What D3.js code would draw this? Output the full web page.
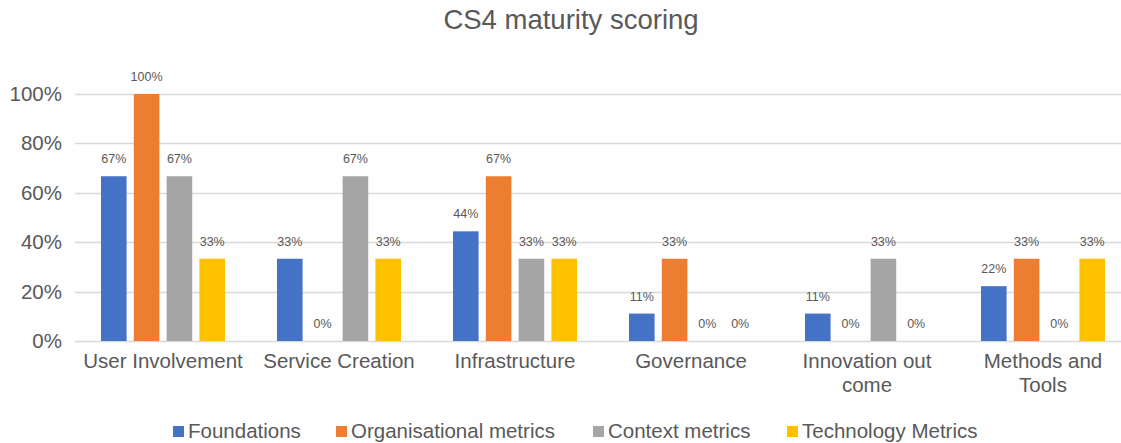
<html>
<head>
    <script src="https://d3js.org/d3.v7.min.js" charset="utf-8"></script>
    <style>
        body { margin: 0; background: #fefefe; }
        text { font-family: "Liberation Sans", Arial, sans-serif; fill: #595959; }
    </style>
</head>
<body>
    <script type="text/javascript">
        var width = 1121;
        var height = 443;

        var margin = { top: 94, right: -10, bottom: 102, left: 75 };

        // chart values
        var categories = ["User Involvement", "Service Creation", "Infrastructure", "Governance", "Innovation out come", "Methods and Tools"];
        var seriesNames = ["Foundations", "Organisational metrics", "Context metrics", "Technology Metrics"];
        var foundations = [0.667, 0.333, 0.444, 0.111, 0.111, 0.222];
        var organisational = [1.0, 0, 0.667, 0.333, 0, 0.333];
        var context = [0.667, 0.667, 0.333, 0, 0.333, 0];
        var technology = [0.333, 0.333, 0.333, 0, 0, 0.333];
        var yTicks = [0, 0.2, 0.4, 0.6, 0.8, 1.0];
        var colors = ["#4472C4", "#ED7D31", "#A5A5A5", "#FFC000"];

        var seriesValues = [foundations, organisational, context, technology];

        const svg = d3.select("body").append("svg")
            .attr("width", width)
            .attr("height", height);

        var plotW = width - margin.left - margin.right;

        var x0 = d3.scaleBand()
            .domain(categories)
            .range([margin.left, margin.left + plotW])
            .paddingInner(0)
            .paddingOuter(0);

        var x1 = d3.scaleBand()
            .domain(seriesNames)
            .range([26, x0.bandwidth() - 26])
            .paddingInner(0.22);

        var y = d3.scaleLinear()
            .domain([0, 1])
            .range([height - margin.bottom, margin.top]);

        // title
        svg.append("text")
            .attr("x", 571)
            .attr("y", 29)
            .attr("text-anchor", "middle")
            .style("font-size", "27.5px")
            .text("CS4 maturity scoring");

        // gridlines
        svg.append("g")
            .selectAll("line")
            .data(yTicks)
            .join("line")
                .attr("x1", margin.left)
                .attr("x2", width)
                .attr("y1", d => Math.round(y(d)) + 0.5)
                .attr("y2", d => Math.round(y(d)) + 0.5)
                .attr("stroke", "#d9d9d9")
                .attr("stroke-width", 1.5);

        // y axis labels
        var yAxis = d3.axisLeft(y).tickValues(yTicks).tickFormat(d3.format(".0%")).tickSize(0).tickPadding(13);
        var ya = svg.append("g")
            .attr("transform", `translate(${margin.left},0)`)
            .call(yAxis);
        ya.select(".domain").remove();
        ya.selectAll("text")
            .style("font-size", "20.5px")
            .style("fill", "#595959")
            .style("font-family", "'Liberation Sans', Arial, sans-serif");

        // bars
        var rows = categories.map((c, i) => ({
            cat: c,
            vals: seriesNames.map((s, j) => ({ key: s, value: seriesValues[j][i], color: colors[j] }))
        }));

        var groups = svg.append("g")
            .selectAll("g")
            .data(rows)
            .join("g")
                .attr("transform", d => `translate(${x0(d.cat)},0)`);

        groups.selectAll("rect")
            .data(d => d.vals)
            .join("rect")
                .attr("x", d => x1(d.key))
                .attr("width", x1.bandwidth())
                .attr("y", d => y(d.value))
                .attr("height", d => y(0) - y(d.value))
                .attr("fill", d => d.color);

        groups.selectAll("text")
            .data(d => d.vals)
            .join("text")
                .attr("x", d => x1(d.key) + x1.bandwidth() / 2)
                .attr("y", d => y(d.value) - 13)
                .attr("text-anchor", "middle")
                .style("font-size", "12.5px")
                .text(d => Math.round(d.value * 100) + "%");

        // category labels with wrapping
        var catLabels = svg.append("g")
            .selectAll("text")
            .data(categories)
            .join("text")
                .attr("x", d => x0(d) + x0.bandwidth() / 2)
                .attr("y", 368)
                .attr("text-anchor", "middle")
                .style("font-size", "20.5px");

        catLabels.each(function(d) {
            var el = d3.select(this);
            var words = d.split(" ");
            var line = [];
            var tspan = el.append("tspan").attr("x", el.attr("x")).attr("dy", 0);
            words.forEach(w => {
                line.push(w);
                tspan.text(line.join(" "));
                if (tspan.node().getComputedTextLength() > 164 && line.length > 1) {
                    line.pop();
                    tspan.text(line.join(" "));
                    line = [w];
                    tspan = el.append("tspan").attr("x", el.attr("x")).attr("dy", "24").text(w);
                }
            });
        });

        // legend
        var legendX = [173, 336, 593, 787];
        var legend = svg.append("g")
            .selectAll("g")
            .data(seriesNames)
            .join("g")
                .attr("transform", (d, i) => `translate(${legendX[i]},431)`);

        legend.append("rect")
            .attr("x", 0)
            .attr("y", -5)
            .attr("width", 11)
            .attr("height", 11)
            .attr("fill", (d, i) => colors[i]);

        legend.append("text")
            .attr("x", 15)
            .attr("y", 7)
            .style("font-size", "20.5px")
            .text(d => d);
    </script>
</body>
</html>
